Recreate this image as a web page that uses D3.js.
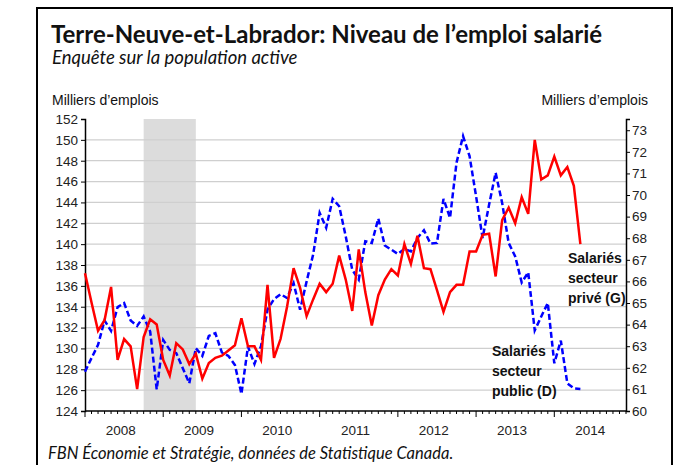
<!DOCTYPE html>
<html>
<head>
<meta charset="utf-8">
<script src="https://cdn.jsdelivr.net/npm/d3@7"></script>
<style>
  body { margin: 0; background: #fff; }
  svg { display: block; }
</style>
</head>
<body>
<svg id="chart" width="679" height="465"></svg>
<script>
// Monthly data, Jan 2008 (index 0) to May 2014 (index 76)
const yearLabels = ['2008', '2009', '2010', '2011', '2012', '2013', '2014'];
const leftTicks = [124, 126, 128, 130, 132, 134, 136, 138, 140, 142, 144, 146, 148, 150, 152];
const rightTicks = [60, 61, 62, 63, 64, 65, 66, 67, 68, 69, 70, 71, 72, 73];
const recession = [9, 17]; // Oct 2008 - Jun 2009 (month index)

// Private sector employees (G), thousands
const privateSector = [
  137.2, 134.4, 131.7, 132.7, 135.9, 128.9, 130.9, 130.2, 126.1, 131.1, 132.8, 132.3,
  128.9, 127.4, 130.5, 129.9, 128.5, 129.5, 127.1, 128.6, 129.1, 129.3, 129.8, 130.3,
  132.9, 130.2, 130.2, 128.9, 136.1, 129.1, 130.9, 134.0, 137.7, 135.8, 133.1, 134.7,
  136.2, 135.4, 136.2, 138.9, 136.6, 133.6, 139.5, 135.4, 132.2, 135.1, 136.6, 137.6,
  137.0, 140.0, 138.1, 140.8, 137.7, 137.6, 135.6, 133.5, 135.4, 136.1, 136.1, 139.3,
  139.3, 140.9, 141.0, 136.9, 142.3, 143.5, 142.0, 144.5, 142.9, 150.0, 146.2, 146.6,
  148.4, 146.6, 147.4, 145.6, 140.0
];

// Public sector employees (D), thousands
const publicSector = [
  61.82, 62.45, 63.06, 64.19, 63.71, 64.81, 65.00, 64.19, 63.94, 64.38, 63.68, 61.00,
  63.29, 62.83, 62.68, 61.98, 61.28, 62.91, 62.55, 63.48, 63.60, 62.71, 62.55, 62.13,
  60.79, 62.98, 62.18, 63.00, 64.70, 65.18, 65.41, 65.23, 65.92, 64.69, 66.00, 67.24,
  69.17, 68.48, 69.82, 69.48, 68.09, 66.54, 66.08, 67.86, 67.78, 68.91, 67.66, 67.47,
  67.27, 67.50, 67.39, 68.01, 68.37, 67.75, 67.78, 69.82, 68.94, 71.50, 72.73, 71.80,
  69.94, 68.01, 69.56, 71.03, 69.63, 67.78, 67.16, 65.95, 66.42, 63.73, 64.38, 65.00,
  62.21, 63.26, 61.28, 61.05, 61.02
];

const svg = d3.select('#chart');
const font = 'Liberation Sans, Arial, sans-serif';
const titleFont = 'Lato, Calibri, sans-serif';

const plot = { left: 85, right: 626, top: 119, bottom: 411 };

const x = d3.scaleLinear().domain([0, 83]).range([plot.left, plot.right]);
const yL = d3.scaleLinear().domain([124, 152]).range([plot.bottom, plot.top]);
const yR = d3.scaleLinear().domain([60, 73.52]).range([plot.bottom, plot.top]);

// frame
svg.append('rect')
  .attr('x', 37).attr('y', 8)
  .attr('width', 635).attr('height', 470)
  .attr('fill', 'none')
  .attr('stroke', '#000')
  .attr('stroke-width', 2);

// titles
svg.append('text')
  .attr('x', 51).attr('y', 43)
  .attr('font-family', titleFont)
  .attr('font-weight', 'bold')
  .attr('font-size', 24)
  .attr('fill', '#111')
  .text('Terre-Neuve-et-Labrador: Niveau de l’emploi salarié');

svg.append('text')
  .attr('x', 52).attr('y', 64)
  .attr('font-family', titleFont)
  .attr('font-style', 'italic')
  .attr('font-size', 18.5)
  .attr('fill', '#111')
  .text('Enquête sur la population active');

svg.append('text')
  .attr('x', 52).attr('y', 105)
  .attr('font-family', font)
  .attr('font-size', 14)
  .attr('fill', '#111')
  .text('Milliers d’emplois');

svg.append('text')
  .attr('x', 648).attr('y', 105)
  .attr('text-anchor', 'end')
  .attr('font-family', font)
  .attr('font-size', 14)
  .attr('fill', '#111')
  .text('Milliers d’emplois');

// recession band
svg.append('rect')
  .attr('x', x(recession[0]))
  .attr('y', plot.top)
  .attr('width', x(recession[1]) - x(recession[0]))
  .attr('height', plot.bottom - plot.top)
  .attr('fill', '#dcdcdc');

// gridlines
svg.append('g')
  .selectAll('line')
  .data(leftTicks.filter((d) => d > 124 && d < 152))
  .join('line')
  .attr('x1', plot.left).attr('x2', plot.right)
  .attr('y1', (d) => yL(d)).attr('y2', (d) => yL(d))
  .attr('stroke', '#cfcfcf')
  .attr('stroke-width', 1.2);

// left axis
const axisL = svg.append('g')
  .attr('transform', `translate(${plot.left},0)`)
  .call(d3.axisLeft(yL).tickValues(leftTicks).tickSize(4).tickPadding(3));
axisL.select('.domain').attr('stroke-width', 1.5);
axisL.selectAll('text').attr('font-family', font).attr('font-size', 13.5).attr('fill', '#222');

// right axis
const axisR = svg.append('g')
  .attr('transform', `translate(${plot.right},0)`)
  .call(d3.axisRight(yR).tickValues(rightTicks).tickSize(4).tickPadding(2));
axisR.select('.domain').attr('stroke-width', 1.5);
axisR.selectAll('text').attr('font-family', font).attr('font-size', 13.5).attr('fill', '#222');

// bottom axis: monthly minor ticks, yearly major ticks
const axisB = svg.append('g').attr('transform', `translate(0,${plot.bottom})`);
axisB.append('line')
  .attr('x1', plot.left).attr('x2', plot.right)
  .attr('stroke', '#000').attr('stroke-width', 1.5);
axisB.selectAll('line.tick')
  .data(d3.range(0, 84))
  .join('line')
  .attr('class', 'tick')
  .attr('x1', (d) => x(d)).attr('x2', (d) => x(d))
  .attr('y1', 0).attr('y2', (d) => (d % 12 === 0 ? 6 : 3))
  .attr('stroke', '#000').attr('stroke-width', 1);
axisB.selectAll('text')
  .data(yearLabels)
  .join('text')
  .attr('x', (d, i) => x(Math.min(i * 12 + 5.5, 83)))
  .attr('y', 24)
  .attr('text-anchor', 'middle')
  .attr('font-family', font)
  .attr('font-size', 13.5)
  .attr('fill', '#222')
  .text((d) => d);

// lines
const linePriv = d3.line().x((d, i) => x(i)).y((d) => yL(d));
const linePub = d3.line().x((d, i) => x(i)).y((d) => yR(d));

svg.append('path')
  .datum(publicSector)
  .attr('d', linePub)
  .attr('fill', 'none')
  .attr('stroke', '#0000ff')
  .attr('stroke-width', 2.5)
  .attr('stroke-dasharray', '6,3');

svg.append('path')
  .datum(privateSector)
  .attr('d', linePriv)
  .attr('fill', 'none')
  .attr('stroke', '#ff0000')
  .attr('stroke-width', 2.5);

// labels
const labelPriv = svg.append('text')
  .attr('font-family', font).attr('font-weight', 'bold')
  .attr('font-size', 14).attr('fill', '#111');
['Salariés', 'secteur', 'privé (G)'].forEach((t, i) => {
  labelPriv.append('tspan').attr('x', 568).attr('y', 263 + i * 20).text(t);
});

const labelPub = svg.append('text')
  .attr('font-family', font).attr('font-weight', 'bold')
  .attr('font-size', 14).attr('fill', '#111');
['Salariés', 'secteur', 'public (D)'].forEach((t, i) => {
  labelPub.append('tspan').attr('x', 492).attr('y', 356 + i * 20).text(t);
});

// source
svg.append('text')
  .attr('x', 48).attr('y', 459)
  .attr('font-family', titleFont)
  .attr('font-style', 'italic')
  .attr('font-size', 16.5)
  .attr('fill', '#111')
  .text('FBN Économie et Stratégie, données de Statistique Canada.');
</script>
</body>
</html>
